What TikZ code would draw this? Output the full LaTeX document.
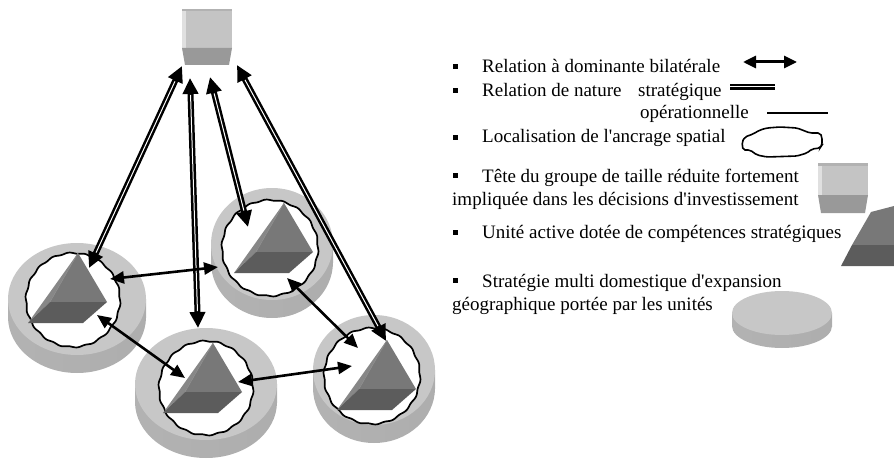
\documentclass[tikz,border=0pt]{standalone}
\usepackage{fontspec}
\setmainfont{Liberation Serif}[Ligatures=TeXOff]
\usetikzlibrary{arrows.meta}

% unit cylinder: centre x, centre y, x radius, y radius, depth
\newcommand\unitdisk[5]{%
  \shade[left color=black!30, middle color=black!12, right color=black!32]
    (#1-#3,#2) rectangle (#1+#3,#2+#5);
  \shade[left color=black!30, middle color=black!12, right color=black!32]
    (#1,#2+#5) ellipse [x radius=#3, y radius=#4];
  \fill[disktop] (#1,#2) ellipse [x radius=#3, y radius=#4];
}
% wavy white ring marking the spatial anchoring
\newcommand\anchorring[3]{%
  \filldraw[fill=white, draw=black, line width=1.7pt]
    plot[domain=0:358, samples=180, smooth cycle]
    ({#1+(#3+0.6*sin(18*\x))*cos(\x)}, {#2+(#3+0.6*sin(18*\x))*sin(\x)});
}
% pyramid given its lower left corner
\newcommand\unitpyramid[2]{%
  \fill[pyrleft]  (#1,#2) -- (#1+50,#2-70) -- (#1+22,#2-21) -- cycle;
  \fill[pyrright] (#1+50,#2-70) -- (#1+79,#2-21) -- (#1+22,#2-21) -- cycle;
  \fill[pyrbottom] (#1,#2) -- (#1+22,#2-21) -- (#1+79,#2-21) -- (#1+55,#2) -- cycle;
  \draw[black!45, line width=0.6pt] (#1+50,#2-70) -- (#1+22,#2-21);
}
% head of the group (box): x, y, height of upper part, height of lower part
\newcommand\headbox[4]{%
  \fill[headtop] (#1,#2) rectangle (#1+50,#2+#3);
  \fill[headrim] (#1,#2) rectangle (#1+50,#2+2.5);
  \fill[headedge] (#1,#2+2.5) rectangle (#1+3.5,#2+#3);
  \fill[headbottom] (#1,#2+#3) -- (#1+50,#2+#3) -- (#1+47,#2+#3+#4) -- (#1+3,#2+#3+#4) -- cycle;
}

\begin{document}
\begin{tikzpicture}[x=1pt, y=-1pt,
  disktop/.style={fill=black!22},
  pyrleft/.style={fill=black!47},
  pyrright/.style={fill=black!53},
  pyrbottom/.style={fill=black!64},
  headtop/.style={fill=black!23},
  headrim/.style={fill=black!30},
  headedge/.style={fill=black!12},
  headbottom/.style={fill=black!40},
  strat/.style={line width=6pt, {Triangle[length=16pt, width=15pt]}-{Triangle[length=16pt, width=15pt]}},
  stratgap/.style={white, line width=1pt, shorten <=17pt, shorten >=17pt},
  oper/.style={line width=2.6pt, {Triangle[length=14pt, width=12pt]}-{Triangle[length=14pt, width=12pt]}},
  legtext/.style={anchor=base west, inner sep=0pt, font=\fontsize{19}{22}\selectfont},
  bullet/.style={fill=black, minimum size=5pt, inner sep=0pt}
]
\useasboundingbox (0,0) rectangle (894,460);

% ---------- units ----------
\unitdisk{77}{299}{69}{56}{18}
\unitdisk{272}{244}{61}{56}{18}
\unitdisk{374}{370}{61}{55}{18}
\unitdisk{206}{384}{71}{56}{18}

\anchorring{73}{300}{47}
\anchorring{270}{248}{48}
\anchorring{372}{376}{48}
\anchorring{206}{388}{47}

\unitpyramid{28}{323}
\unitpyramid{234}{273}
\unitpyramid{337}{410}
\unitpyramid{163}{413}

\headbox{182}{9}{39}{17}

% ---------- end points of the relations ----------
\coordinate (hA) at (182,66);
\coordinate (hB) at (190,78);
\coordinate (hC) at (210,77);
\coordinate (hD) at (237,65);
\coordinate (uA) at (89,268);
\coordinate (uB) at (198,328);
\coordinate (uC) at (248,227);
\coordinate (uD) at (386,341);
\coordinate (acA) at (110,279);
\coordinate (acC) at (218,267);
\coordinate (abA) at (97,315);
\coordinate (abB) at (185,378);
\coordinate (bdB) at (238,382);
\coordinate (bdD) at (352,366);
\coordinate (cdC) at (287,278);
\coordinate (cdD) at (358,348);

% strategic relations (double line)
\foreach \p/\q in {hA/uA, hB/uB, hC/uC, hD/uD}{
  \draw[strat] (\p) -- (\q);
  \draw[stratgap] (\p) -- (\q);
}
% operational relations
\draw[oper] (acA) -- (acC);
\draw[oper] (abA) -- (abB);
\draw[oper] (bdB) -- (bdD);
\draw[oper] (cdC) -- (cdD);

% ---------- legend ----------
\node[bullet] (b1) at (455,67) {};
\node[legtext] (t1) at (482,73) {Relation à dominante bilatérale};
\coordinate (l1a) at (743,62);
\coordinate (l1b) at (797,62);
\draw[line width=3pt, {Triangle[length=13pt, width=12pt]}-{Triangle[length=13pt, width=12pt]}] (l1a) -- (l1b);

\node[bullet] (b2) at (455,90) {};
\node[legtext] (t2) at (482,96) {Relation de nature};
\node[legtext] (t2b) at (638,96) {stratégique};
\coordinate (l2a) at (730,86.5);
\coordinate (l2b) at (775,86.5);
\draw[line width=6pt] (l2a) -- (l2b);
\draw[white, line width=1.6pt] (l2a) -- (l2b);

\node[legtext] (t3) at (640,118) {opérationnelle};
\coordinate (l3a) at (767,113);
\coordinate (l3b) at (828,113);
\draw[line width=1.6pt] (l3a) -- (l3b);

\node[bullet] (b4) at (455,137) {};
\node[legtext] (t4) at (482,142) {Localisation de l'ancrage spatial};
\draw[line width=1.6pt, rounded corners=2pt]
  (742,142) -- (745,137) -- (753,134) -- (760,130) -- (767,128) -- (780,127)
  -- (797,128) -- (810,133) -- (820,133) -- (822,137) -- (822,145) -- (820,148)
  -- (812,149) -- (807,153) -- (797,156) -- (767,157) -- (757,155) -- (750,150)
  -- (743,150) -- cycle;

\node[bullet] (b5) at (455,175) {};
\node[legtext] (t5) at (482,182) {Tête du groupe de taille réduite fortement};
\node[legtext] (t6) at (452,205) {impliquée dans les décisions d'investissement};
\headbox{818}{163}{32}{18}

\node[bullet] (b7) at (455,232) {};
\node[legtext] (t7) at (482,238) {Unité active dotée de compétences stratégiques};
% active unit symbol, cut by the right border
\fill[pyrright] (852,245) -- (871,212) -- (894,206) -- (894,245) -- cycle;
\fill[pyrbottom] (841,266) -- (852,245) -- (894,245) -- (894,266) -- cycle;

\node[bullet] (b8) at (455,280) {};
\node[legtext] (t8) at (482,287) {Stratégie multi domestique d'expansion};
\node[legtext] (t9) at (452,310) {géographique portée par les unités};
\unitdisk{782}{313}{50}{22}{13}
\end{tikzpicture}
\end{document}
